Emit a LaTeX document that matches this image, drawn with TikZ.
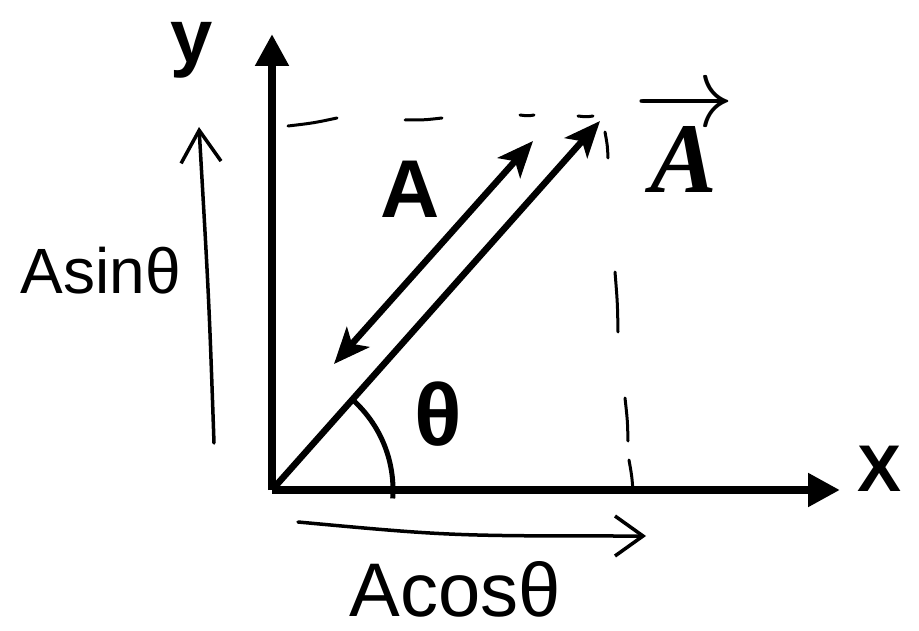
\documentclass[tikz,border=0pt]{standalone}
\usepackage{amsmath, amssymb}
\usepackage{fontspec}
\setmainfont{Liberation Sans}
\newfontfamily\vecfont{Liberation Serif}
\usetikzlibrary{positioning, arrows.meta, calc}

\begin{document}
\begin{tikzpicture}[x=1pt, y=-1pt, >=Stealth,
		axis/.style={line width=8pt, -{Triangle[length=32pt, width=32pt]}},
		vecline/.style={line width=6.5pt},
		hand/.style={line width=3.5pt, line cap=round, line join=round},
		lbl/.style={inner sep=0pt, font=\fontsize{#1}{#1}\selectfont\bfseries},
		script/.style={inner sep=0pt, font=\fontsize{#1}{#1}\selectfont}]
	\useasboundingbox (0,0) rectangle (919,631);
	
	% Assi
	\coordinate (O) at (272,490);
	\coordinate (yEnd) at (272,34);
	\coordinate (xEnd) at (840,490);
	\draw[axis] (O) -- (yEnd);
	\draw[axis] (O) -- (xEnd);
	\node[lbl=76] (ylab) at (192,50) {y};
	\node[lbl=66] (xlab) at (880,469) {X};
	
	% Vettore A e sua lunghezza
	\coordinate (tip) at (600,121);
	\draw[vecline, -{Stealth[length=36pt, width=30pt, inset=9pt]}] (O) -- (tip);
	\coordinate (lenS) at (334,364);
	\coordinate (lenE) at (533,141);
	\draw[vecline, {Stealth[length=36pt, width=30pt, inset=9pt]}-{Stealth[length=36pt, width=30pt, inset=9pt]}] (lenS) -- (lenE);
	\node[lbl=82] (Amag) at (410,189) {A};
	\node[inner sep=0pt] (Avec) at (684,141) {\scalebox{10}{$\overrightarrow{\text{\vecfont\bfseries\itshape A}}$}};
	
	% Angolo
	\draw[line width=5pt] (O) ++(4:121) arc[start angle=4, end angle=-47, radius=121];
	\node[lbl=88] (theta) at (438,414) {θ};
	
	% Proiezioni tratteggiate (a mano)
	\foreach \a/\b/\c/\d in {288/126/337/118, 405/120/442/118, 520/115/534/115, 578/116/593/116,
		605/132/608/158, 615/272/618/332, 625/398/628/441, 629/460/633/492} {
		\draw[hand, line width=3pt] (\a,\b) .. controls ($(\a,\b)!0.5!(\c,\d)+(1,1)$) .. (\c,\d);
	}
	
	% Componenti
	\coordinate (sinS) at (214,443);
	\coordinate (sinE) at (199,127);
	\draw[hand, -{Straight Barb[length=32pt, width=40pt]}] (sinS) .. controls (209,300) .. (sinE);
	\node[script=64] (sinlab) at (101,271) {Asinθ};
	
	\coordinate (cosS) at (298,522);
	\coordinate (cosE) at (646,536);
	\draw[hand, -{Straight Barb[length=28pt, width=40pt]}] (cosS) .. controls (450,536) .. (cosE);
	\node[script=76] (coslab) at (455,589) {Acosθ};
\end{tikzpicture}
\end{document}
